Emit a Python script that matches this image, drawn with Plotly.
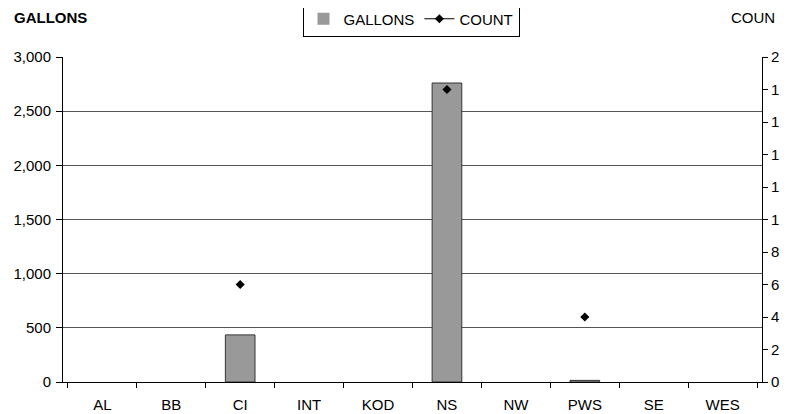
import plotly.graph_objects as go

categories = ["AL", "BB", "CI", "INT", "KOD", "NS", "NW", "PWS", "SE", "WES"]
gallons = [0, 0, 435, 0, 0, 2760, 0, 15, 0, 0]
count = [None, None, 6, None, None, 18, None, 4, None, None]

left_tickvals = [0, 500, 1000, 1500, 2000, 2500, 3000]
left_ticktext = ["0", "500", "1,000", "1,500", "2,000", "2,500", "3,000"]
right_tickvals = [0, 2, 4, 6, 8, 10, 12, 14, 16, 18, 20]
right_ticktext = ["0", "2", "4", "6", "8", "1", "1", "1", "1", "1", "2"]

FS = 15
font = dict(family="Liberation Sans, Arial, sans-serif", size=FS, color="#000")

# page body has an 8px margin, so the figure is drawn at offset (8, 8)
OFF = 8
W, H = 791 - OFF, 414 - OFF
ML, MT = 63 - OFF, 57 - OFF
PW, PH = 699, 325
MR, MB = W - ML - PW, H - MT - PH

fig = go.Figure()
fig.add_trace(go.Bar(
    x=categories, y=gallons, name="GALLONS",
    marker=dict(color="#999999",
                line=dict(color="#333333", width=[1 if g > 0 else 0 for g in gallons])),
    width=0.43, yaxis="y",
))
fig.add_trace(go.Scatter(
    x=categories, y=count, name="COUNT", mode="lines+markers",
    line=dict(color="#000", width=1), connectgaps=False,
    marker=dict(symbol="diamond", size=7, color="#000"),
    yaxis="y2",
))

fig.update_layout(
    width=W, height=H,
    margin=dict(l=ML, r=MR, t=MT, b=MB, autoexpand=False),
    paper_bgcolor="white", plot_bgcolor="white",
    font=font,
    showlegend=True,
    legend=dict(orientation="h", x=(411 - 63) / PW, xanchor="center",
                y=1 + (57 - 19) / PH, yanchor="middle",
                bordercolor="#000", borderwidth=1, bgcolor="white",
                font=dict(size=FS), tracegroupgap=0, itemwidth=30),
    xaxis=dict(showline=True, linecolor="#000", linewidth=1,
               ticks="outside", tickson="boundaries", ticklen=5, tickcolor="#000",
               showgrid=False, tickfont=dict(size=FS), automargin=False,
               ticklabelstandoff=9),
    yaxis=dict(range=[0, 3000], tickvals=left_tickvals, ticktext=left_ticktext,
               showline=True, linecolor="#000", linewidth=1, ticks="outside",
               ticklen=6, tickcolor="#000", showgrid=True, gridcolor="#555",
               gridwidth=1, zeroline=False, tickfont=dict(size=FS), automargin=False,
               ticklabelstandoff=2),
    yaxis2=dict(range=[0, 20], tickvals=right_tickvals, ticktext=right_ticktext,
                overlaying="y", side="right", showline=True, linecolor="#000",
                linewidth=1, ticks="outside", ticklen=5, tickcolor="#000",
                showgrid=False, zeroline=False, tickfont=dict(size=FS), automargin=False),
)

fig.add_annotation(text="<b>GALLONS</b>", xref="paper", yref="paper",
                   x=(12 - 63) / PW, y=1 + (57 - 18) / PH,
                   xanchor="left", yanchor="middle",
                   showarrow=False, font=dict(size=15))
fig.add_annotation(text="COUN", xref="paper", yref="paper",
                   x=(777 - 63) / PW, y=1 + (57 - 18) / PH,
                   xanchor="right", yanchor="middle",
                   showarrow=False, font=dict(size=FS))

fig.write_html("out.html")
